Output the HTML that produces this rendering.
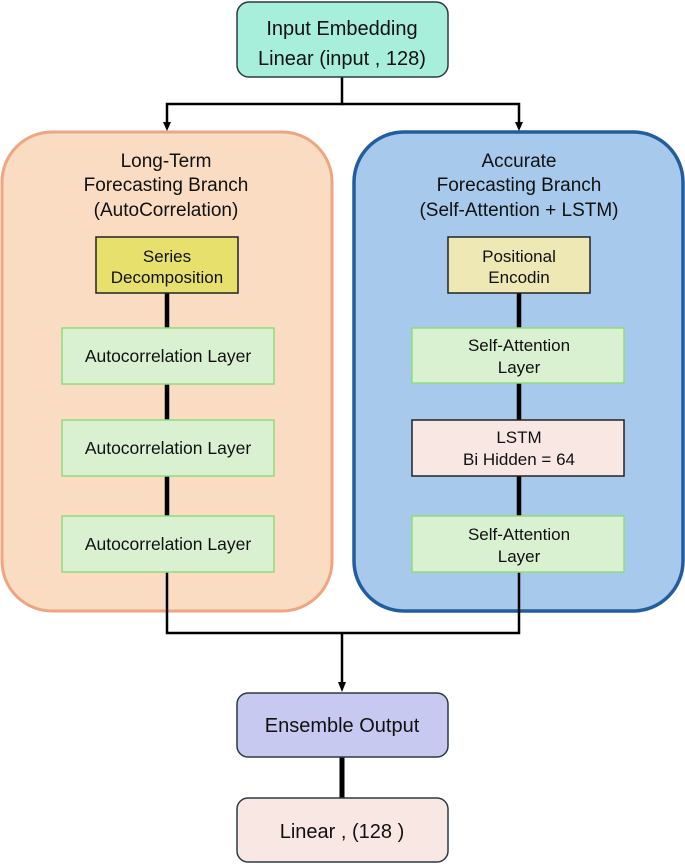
<!DOCTYPE html>
<html><head><style>
html,body{margin:0;padding:0;background:#fff;}
svg{display:block;}
text{font-family:"Liberation Sans",sans-serif;fill:#111;text-anchor:middle;}
</style></head><body>
<svg width="685" height="864" viewBox="0 0 685 864" xmlns="http://www.w3.org/2000/svg">
<rect x="2" y="132" width="330" height="479" rx="50" fill="#f9dcc1" stroke="#eea582" stroke-width="3"/>
<rect x="354" y="132" width="329" height="479" rx="50" fill="#a7c9eb" stroke="#225e9e" stroke-width="3.5"/>
<polyline points="342,77 342,104 167,104 167,124" fill="none" stroke="#000" stroke-width="2.5"/>
<polyline points="342,104 519,104 519,124" fill="none" stroke="#000" stroke-width="2.5"/>
<polygon points="163,122 171,122 167,131" fill="#000"/>
<polygon points="515,122 523,122 519,131" fill="#000"/>
<line x1="167" y1="293" x2="167" y2="516" stroke="#000" stroke-width="4.5"/>
<line x1="519" y1="293" x2="519" y2="516" stroke="#000" stroke-width="4.5"/>
<polyline points="167,572 167,633 519,633 519,572" fill="none" stroke="#000" stroke-width="2.5"/>
<line x1="342" y1="633" x2="342" y2="684" stroke="#000" stroke-width="2.5"/>
<polygon points="338,682 346,682 342,692" fill="#000"/>
<line x1="342" y1="757" x2="342" y2="798" stroke="#000" stroke-width="5"/>
<rect x="237" y="2" width="211" height="75" rx="12" fill="#a8efdb" stroke="#2a3a44" stroke-width="1.5"/>
<text x="342" y="35" font-size="20">Input Embedding</text>
<text x="342" y="65" font-size="20">Linear (input , 128)</text>
<text x="166" y="167" font-size="19">Long-Term</text>
<text x="166" y="191" font-size="19">Forecasting Branch</text>
<text x="166" y="216" font-size="19">(AutoCorrelation)</text>
<text x="519" y="167" font-size="19">Accurate</text>
<text x="519" y="191" font-size="19">Forecasting Branch</text>
<text x="519" y="216" font-size="19">(Self-Attention + LSTM)</text>
<rect x="96" y="237" width="142" height="56" fill="#e8e06c" stroke="#222" stroke-width="1.5"/>
<text x="167" y="262" font-size="17">Series</text>
<text x="167" y="283" font-size="17">Decomposition</text>
<rect x="62" y="328" width="212" height="56" fill="#d9f1d0" stroke="#8fdc7a" stroke-width="1.5"/>
<text x="168" y="362" font-size="17.5">Autocorrelation Layer</text>
<rect x="62" y="420" width="212" height="56" fill="#d9f1d0" stroke="#8fdc7a" stroke-width="1.5"/>
<text x="168" y="454" font-size="17.5">Autocorrelation Layer</text>
<rect x="62" y="516" width="212" height="56" fill="#d9f1d0" stroke="#8fdc7a" stroke-width="1.5"/>
<text x="168" y="550" font-size="17.5">Autocorrelation Layer</text>
<rect x="448" y="237" width="142" height="56" fill="#ede8b4" stroke="#222" stroke-width="1.5"/>
<text x="519" y="262" font-size="17">Positional</text>
<text x="519" y="283" font-size="17">Encodin</text>
<rect x="412" y="328" width="212" height="55" fill="#d9f1d0" stroke="#8fdc7a" stroke-width="1.5"/>
<text x="519" y="351" font-size="17">Self-Attention</text>
<text x="519" y="373" font-size="17">Layer</text>
<rect x="412" y="420" width="212" height="56" fill="#f8e7e2" stroke="#222" stroke-width="1.5"/>
<text x="519" y="443" font-size="17">LSTM</text>
<text x="519" y="465" font-size="17">Bi Hidden = 64</text>
<rect x="412" y="516" width="212" height="56" fill="#d9f1d0" stroke="#8fdc7a" stroke-width="1.5"/>
<text x="519" y="540" font-size="17">Self-Attention</text>
<text x="519" y="562" font-size="17">Layer</text>
<rect x="237" y="693" width="211" height="64" rx="11" fill="#c8c9f0" stroke="#2a3a44" stroke-width="1.5"/>
<text x="342" y="732" font-size="20">Ensemble Output</text>
<rect x="237" y="798" width="211" height="64" rx="11" fill="#f8e7e2" stroke="#2a3a44" stroke-width="1.5"/>
<text x="342" y="838" font-size="20">Linear , (128 )</text>
</svg>
</body></html>
